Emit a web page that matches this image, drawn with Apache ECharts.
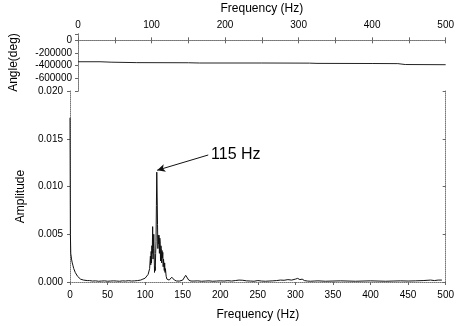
<!DOCTYPE html>
<html>
<head>
<meta charset="utf-8">
<script src="https://cdn.jsdelivr.net/npm/echarts@6/dist/echarts.min.js"></script>
<style>
  html, body { margin: 0; padding: 0; background: #fff; }
  #chart { width: 457px; height: 326px; }
</style>
</head>
<body>
<div id="chart"></div>
<script>
// amplitude spectrum
const freq = [0, 0.5, 1, 2, 3, 4, 5, 6, 7, 8, 10, 12, 14, 16, 18, 20, 23, 26, 30, 34, 38, 42, 46, 50, 54, 58, 62, 66, 70, 74, 78, 82, 86, 90, 94, 97,
  100, 102, 104, 105, 106, 107, 107.5, 108, 108.5, 109, 109.5, 110, 110.5, 111, 111.5, 112, 112.5, 113, 113.5, 114, 114.5,
  115, 115.5, 116, 116.5, 117, 117.5, 118, 118.5, 119, 119.5, 120, 120.5, 121, 121.5, 122, 122.5, 123, 123.5, 124, 124.5,
  125, 125.5, 126, 126.5, 127, 128, 129, 130, 132, 134, 135.5, 137, 139, 142, 146, 150, 152, 154, 155, 156.5, 158, 161,
  165, 170, 175, 180, 185, 190, 195, 200, 205, 210, 215, 220, 225, 230, 235, 240, 245, 250, 255, 260, 265, 270, 275, 280,
  285, 290, 295, 300, 303, 306, 309, 312, 316, 320, 325, 330, 340, 350, 360, 370, 380, 390, 400, 410, 420, 430, 440, 450,
  460, 470, 480, 485, 490, 495, 500];
const amp = [0.0172, 0.0050, 0.0030, 0.0024, 0.0020, 0.0017, 0.0014, 0.0012, 0.0010, 0.0009, 0.0006, 0.0004, 0.0003, 0.00025, 0.0002, 0.0002, 0.00015, 0.00015, 0.0001, 0.00012, 0.00008, 0.0001, 0.00012, 0.00008, 0.0001, 0.00012, 0.0001, 0.00008, 0.00012, 0.0001, 0.00014, 0.0001, 0.00012, 0.00015, 0.0002, 0.0003,
  0.0004, 0.0005, 0.0008, 0.0010, 0.0014, 0.0027, 0.0018, 0.0032, 0.0020, 0.0038, 0.0030, 0.0058, 0.0024, 0.0035, 0.0050, 0.0030, 0.0010, 0.0016, 0.0012, 0.0030, 0.0042,
  0.0080, 0.0115, 0.0090, 0.0060, 0.0035, 0.0049, 0.0040, 0.0049, 0.0030, 0.0046, 0.0042, 0.0022, 0.0038, 0.0035, 0.0020, 0.0033, 0.0025, 0.0031, 0.0016, 0.0024,
  0.0025, 0.0012, 0.0020, 0.0010, 0.0014, 0.0006, 0.0003, 0.0002, 0.0002, 0.0003, 0.0005, 0.0003, 0.0002, 0.0001, 0.0001, 0.0002, 0.0003, 0.0007, 0.0009, 0.0005, 0.0002, 0.0001,
  0.0001, 0.00012, 0.00008, 0.0001, 0.00012, 0.00008, 0.0001, 0.00012, 0.0001, 0.00014, 0.0001, 0.00015, 0.0002, 0.00018, 0.00012, 0.0001, 0.00008, 0.00015, 0.0001, 0.00008, 0.0001, 0.00012, 0.00015,
  0.0002, 0.00018, 0.00025, 0.0002, 0.0003, 0.00038, 0.00025, 0.0003, 0.00015, 0.0001, 0.00008, 0.0001, 0.00012, 0.00008, 0.0001, 0.00012, 0.0001, 0.00008, 0.0001, 0.00012, 0.0001, 0.00008, 0.0001, 0.00012,
  0.0001, 0.00012, 0.00015, 0.0002, 0.00015, 0.0002, 0.0002];

// phase, nearly flat
const phaseFreq = [0, 30, 45, 80, 150, 165, 250, 315, 325, 400, 435, 445, 500];
const phase = [-338000, -338000, -345000, -352000, -354000, -358000, -358000, -360000, -364000, -366000, -368000, -382000, -385000];

const ampTicks = { min: 0, max: 0.02, step: 0.005 };
const phaseTicks = { min: -800000, max: 100000, step: 200000 };
const peak = { f: 116, a: 0.0117, text: "115 Hz", textF: 184, textA: 0.0133 };

const chart = echarts.init(document.getElementById("chart"));
const font = "Liberation Sans, Arial, sans-serif";
const axisLine = { show: true, lineStyle: { color: "#777", type: "dotted", width: 1 } };
const tickIn = { show: true, inside: true, length: 3, lineStyle: { color: "#666" } };
const tickOut = { show: true, inside: false, length: 3, lineStyle: { color: "#666" } };
const lbl = { color: "#000", fontSize: 10, fontFamily: font };
const nameStyle = { color: "#000", fontSize: 12, fontFamily: font };

const option = {
  animation: false,
  grid: [
    { left: 70, top: 34, width: 380, height: 57 },
    { left: 70, top: 91, width: 380, height: 193 }
  ],
  xAxis: [
    {
      gridIndex: 0, type: "value", position: "top", min: 0, max: 500, interval: 50,
      name: "Frequency (Hz)", nameLocation: "middle", nameGap: 19, nameTextStyle: nameStyle,
      axisLine, axisTick: tickIn, splitLine: { show: false },
      axisLabel: { ...lbl, margin: 4, formatter: v => (v % 100 === 0 ? String(v) : "") }
    },
    {
      gridIndex: 0, type: "value", position: "bottom", min: 0, max: 500, interval: 50,
      axisLine, axisTick: tickIn, axisLabel: { show: false }, splitLine: { show: false }
    },
    {
      gridIndex: 1, type: "value", position: "bottom", min: 0, max: 500, interval: 50,
      name: "Frequency (Hz)", nameLocation: "middle", nameGap: 27, nameTextStyle: nameStyle,
      axisLine, axisTick: tickOut, splitLine: { show: false },
      axisLabel: { ...lbl, margin: 8 }
    }
  ],
  yAxis: [
    {
      gridIndex: 0, type: "value", min: phaseTicks.min, max: phaseTicks.max, interval: phaseTicks.step,
      name: "Angle(deg)", nameLocation: "middle", nameGap: 58, nameTextStyle: nameStyle,
      axisLine, axisTick: tickOut, splitLine: { show: false },
      axisLabel: { ...lbl, margin: 6, showMinLabel: false, formatter: v => String(v) }
    },
    {
      gridIndex: 0, type: "value", position: "right", min: phaseTicks.min, max: phaseTicks.max, interval: phaseTicks.step,
      axisLine, axisTick: tickIn, axisLabel: { show: false }, splitLine: { show: false }
    },
    {
      gridIndex: 1, type: "value", min: ampTicks.min, max: ampTicks.max, interval: ampTicks.step,
      name: "Amplitude", nameLocation: "middle", nameGap: 37,
      nameTextStyle: { ...nameStyle, padding: [0, 20, 0, 0] },
      axisLine, axisTick: tickOut, splitLine: { show: false },
      axisLabel: { ...lbl, margin: 7, formatter: v => v.toFixed(3) }
    },
    {
      gridIndex: 1, type: "value", position: "right", min: ampTicks.min, max: ampTicks.max, interval: ampTicks.step,
      axisLine, axisTick: tickIn, axisLabel: { show: false }, splitLine: { show: false }
    }
  ],
  series: [
    {
      type: "line", xAxisIndex: 0, yAxisIndex: 0,
      data: phaseFreq.map((f, i) => [f, phase[i]]),
      showSymbol: false, lineStyle: { color: "#222", width: 1 }
    },
    {
      type: "line", xAxisIndex: 2, yAxisIndex: 2,
      data: freq.map((f, i) => [f, amp[i]]),
      showSymbol: false, lineStyle: { color: "#111", width: 1 },
      markLine: {
        silent: true,
        symbol: ["arrow", "none"],
        symbolSize: [6, 8],
        lineStyle: { color: "#111", width: 1, type: "solid" },
        label: { show: true, position: "end", formatter: peak.text, color: "#000", fontSize: 16, fontFamily: font, distance: 3 },
        data: [[{ coord: [peak.f, peak.a] }, { coord: [peak.textF, peak.textA] }]]
      }
    }
  ]
};

chart.setOption(option);
</script>
</body>
</html>
